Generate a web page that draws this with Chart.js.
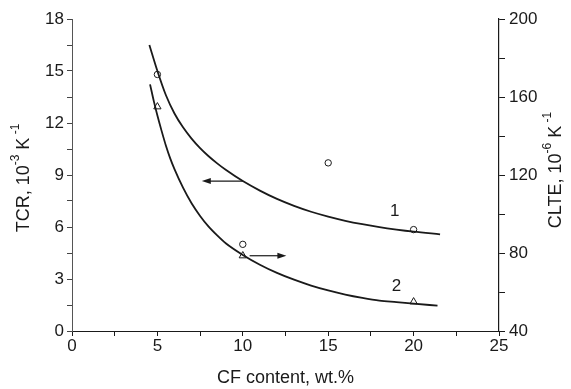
<!DOCTYPE html>
<html>
<head>
<meta charset="utf-8">
<script src="https://cdn.jsdelivr.net/npm/chart.js@4.4.1/dist/chart.umd.min.js"></script>
<style>
  body { margin: 0; background: #fff; }
  #wrap { width: 571px; height: 389px; }
</style>
</head>
<body>
<div id="wrap"><canvas id="c"></canvas></div>
<script>
// measured points
const cfContent = [5, 10, 15, 20];
const tcrValues = [14.8, 5.0, 9.7, 5.85];
const clteContent = [5, 10, 20];
const clteValues = [155, 78.6, 55];

// fitted curves
const fit1X = [4.53, 5.0, 5.5, 6.0, 6.5, 7.0, 7.5, 8.0, 8.5, 9.0, 10.0, 11.0, 12.0, 13.0, 14.0, 15.0, 16.0, 17.0, 18.0, 19.0, 20.0, 21.55];
const fit1Y = [16.5, 15.0, 13.6, 12.55, 11.75, 11.1, 10.55, 10.08, 9.67, 9.3, 8.65, 8.1, 7.62, 7.22, 6.88, 6.6, 6.36, 6.16, 5.99, 5.85, 5.73, 5.58];
const fit2X = [4.57, 4.8, 5.0, 5.25, 5.5, 5.75, 6.0, 6.5, 7.0, 7.5, 8.0, 8.5, 9.0, 10.0, 11.0, 12.0, 13.0, 14.0, 15.0, 16.0, 17.0, 18.0, 19.0, 20.0, 21.4];
const fit2Y = [166.5, 157.5, 150.5, 142.5, 135, 128.5, 123, 113.5, 105.5, 99, 93.5, 89, 85, 79, 74, 69.8, 66.3, 63.3, 60.8, 58.7, 57, 55.6, 54.8, 54.0, 53.0];

const FONT = "'Liberation Sans', Arial, sans-serif";
const INK = "#1a1a1a";

function toPts(xs, ys) {
  return xs.map((x, i) => ({ x: x, y: ys[i] }));
}

function isMultiple(v, step) {
  return Math.abs(v / step - Math.round(v / step)) < 1e-6;
}

// rotated title with superscripts, drawn bottom-to-top
function drawTitle(ctx, cx, cy, parts) {
  ctx.save();
  ctx.translate(cx, cy);
  ctx.rotate(-Math.PI / 2);
  let total = 0;
  parts.forEach((p) => {
    ctx.font = (p.sup ? "12px " : "18px ") + FONT;
    total += ctx.measureText(p.t).width;
  });
  let x = -total / 2;
  ctx.fillStyle = INK;
  ctx.textBaseline = "middle";
  parts.forEach((p) => {
    ctx.font = (p.sup ? "12px " : "18px ") + FONT;
    ctx.fillText(p.t, x, p.sup ? -8 : 0);
    x += ctx.measureText(p.t).width;
  });
  ctx.restore();
}

function arrow(ctx, x1, y1, x2, y2) {
  const dir = Math.sign(x2 - x1);
  ctx.beginPath();
  ctx.moveTo(x1, y1);
  ctx.lineTo(x2 - dir * 6, y2);
  ctx.stroke();
  ctx.beginPath();
  ctx.moveTo(x2, y2);
  ctx.lineTo(x2 - dir * 9, y2 - 3);
  ctx.lineTo(x2 - dir * 9, y2 + 3);
  ctx.closePath();
  ctx.fill();
}

const extras = {
  id: "extras",
  afterDraw(chart) {
    const ctx = chart.ctx;
    const xs = chart.scales.x, y = chart.scales.y, y2 = chart.scales.y2;
    const area = chart.chartArea;
    const mid = (area.top + area.bottom) / 2;

    drawTitle(ctx, 24, mid + 3, [
      { t: "TCR, 10" }, { t: "-3", sup: true }, { t: " K" }, { t: " -1", sup: true }
    ]);
    drawTitle(ctx, 556, mid - 5, [
      { t: "CLTE, 10" }, { t: "-6", sup: true }, { t: " K" }, { t: " -1", sup: true }
    ]);

    ctx.save();
    ctx.strokeStyle = INK;
    ctx.fillStyle = INK;
    ctx.lineWidth = 1.2;
    arrow(ctx, xs.getPixelForValue(10.0), y.getPixelForValue(8.65),
      xs.getPixelForValue(7.6), y.getPixelForValue(8.65));
    arrow(ctx, xs.getPixelForValue(10.4), y2.getPixelForValue(78.6),
      xs.getPixelForValue(12.55), y2.getPixelForValue(78.6));

    ctx.font = "17px " + FONT;
    ctx.textAlign = "center";
    ctx.textBaseline = "middle";
    ctx.fillText("1", xs.getPixelForValue(18.9), y.getPixelForValue(6.9));
    ctx.fillText("2", xs.getPixelForValue(19.0), y.getPixelForValue(2.6));
    ctx.restore();
  }
};

const tickFont = { family: FONT, size: 17 };

new Chart(document.getElementById("c"), {
  type: "scatter",
  data: {
    datasets: [
      {
        data: toPts(fit1X, fit1Y),
        yAxisID: "y",
        showLine: true,
        borderColor: INK,
        borderWidth: 1.8,
        pointRadius: 0,
        cubicInterpolationMode: "monotone"
      },
      {
        data: toPts(fit2X, fit2Y),
        yAxisID: "y2",
        showLine: true,
        borderColor: INK,
        borderWidth: 1.8,
        pointRadius: 0,
        cubicInterpolationMode: "monotone"
      },
      {
        data: toPts(cfContent, tcrValues),
        yAxisID: "y",
        pointStyle: "circle",
        pointRadius: 3.2,
        borderColor: INK,
        borderWidth: 1,
        backgroundColor: "rgba(255,255,255,0)"
      },
      {
        data: toPts(clteContent, clteValues),
        yAxisID: "y2",
        pointStyle: "triangle",
        pointRadius: 4.2,
        borderColor: INK,
        borderWidth: 1,
        backgroundColor: "rgba(255,255,255,0)"
      }
    ]
  },
  options: {
    responsive: true,
    maintainAspectRatio: false,
    animation: false,
    layout: { padding: { top: 19, left: 0, right: 0, bottom: 0 } },
    plugins: {
      legend: { display: false },
      tooltip: { enabled: false }
    },
    scales: {
      x: {
        type: "linear",
        position: "bottom",
        min: 0,
        max: 25,
        afterFit: (s) => { s.height = 58; },
        ticks: {
          stepSize: 2.5,
          autoSkip: false,
          maxRotation: 0,
          color: INK,
          font: tickFont,
          padding: 0,
          callback: (v) => (isMultiple(v, 5) ? v : "")
        },
        grid: { drawOnChartArea: false, tickLength: 5, color: INK },
        border: { color: INK, width: 1 },
        title: {
          display: true,
          text: "CF content, wt.%",
          color: INK,
          font: { family: FONT, size: 18 },
          padding: { top: 9, bottom: 0 }
        }
      },
      y: {
        position: "left",
        min: 0,
        max: 18,
        afterFit: (s) => { s.width = 72; },
        ticks: {
          stepSize: 1.5,
          autoSkip: false,
          color: INK,
          font: tickFont,
          padding: 3,
          callback: (v) => (isMultiple(v, 3) ? v : "")
        },
        grid: { drawOnChartArea: false, tickLength: 5, color: "#444" },
        border: { color: "#555", width: 1 }
      },
      y2: {
        position: "right",
        min: 40,
        max: 200,
        afterFit: (s) => { s.width = 72; },
        ticks: {
          stepSize: 20,
          autoSkip: false,
          color: INK,
          font: tickFont,
          padding: 4,
          callback: (v) => (isMultiple(v, 40) ? v : "")
        },
        grid: { drawOnChartArea: false, tickLength: 6, color: INK },
        border: { color: INK, width: 1.2 }
      }
    }
  },
  plugins: [extras]
});
</script>
</body>
</html>
